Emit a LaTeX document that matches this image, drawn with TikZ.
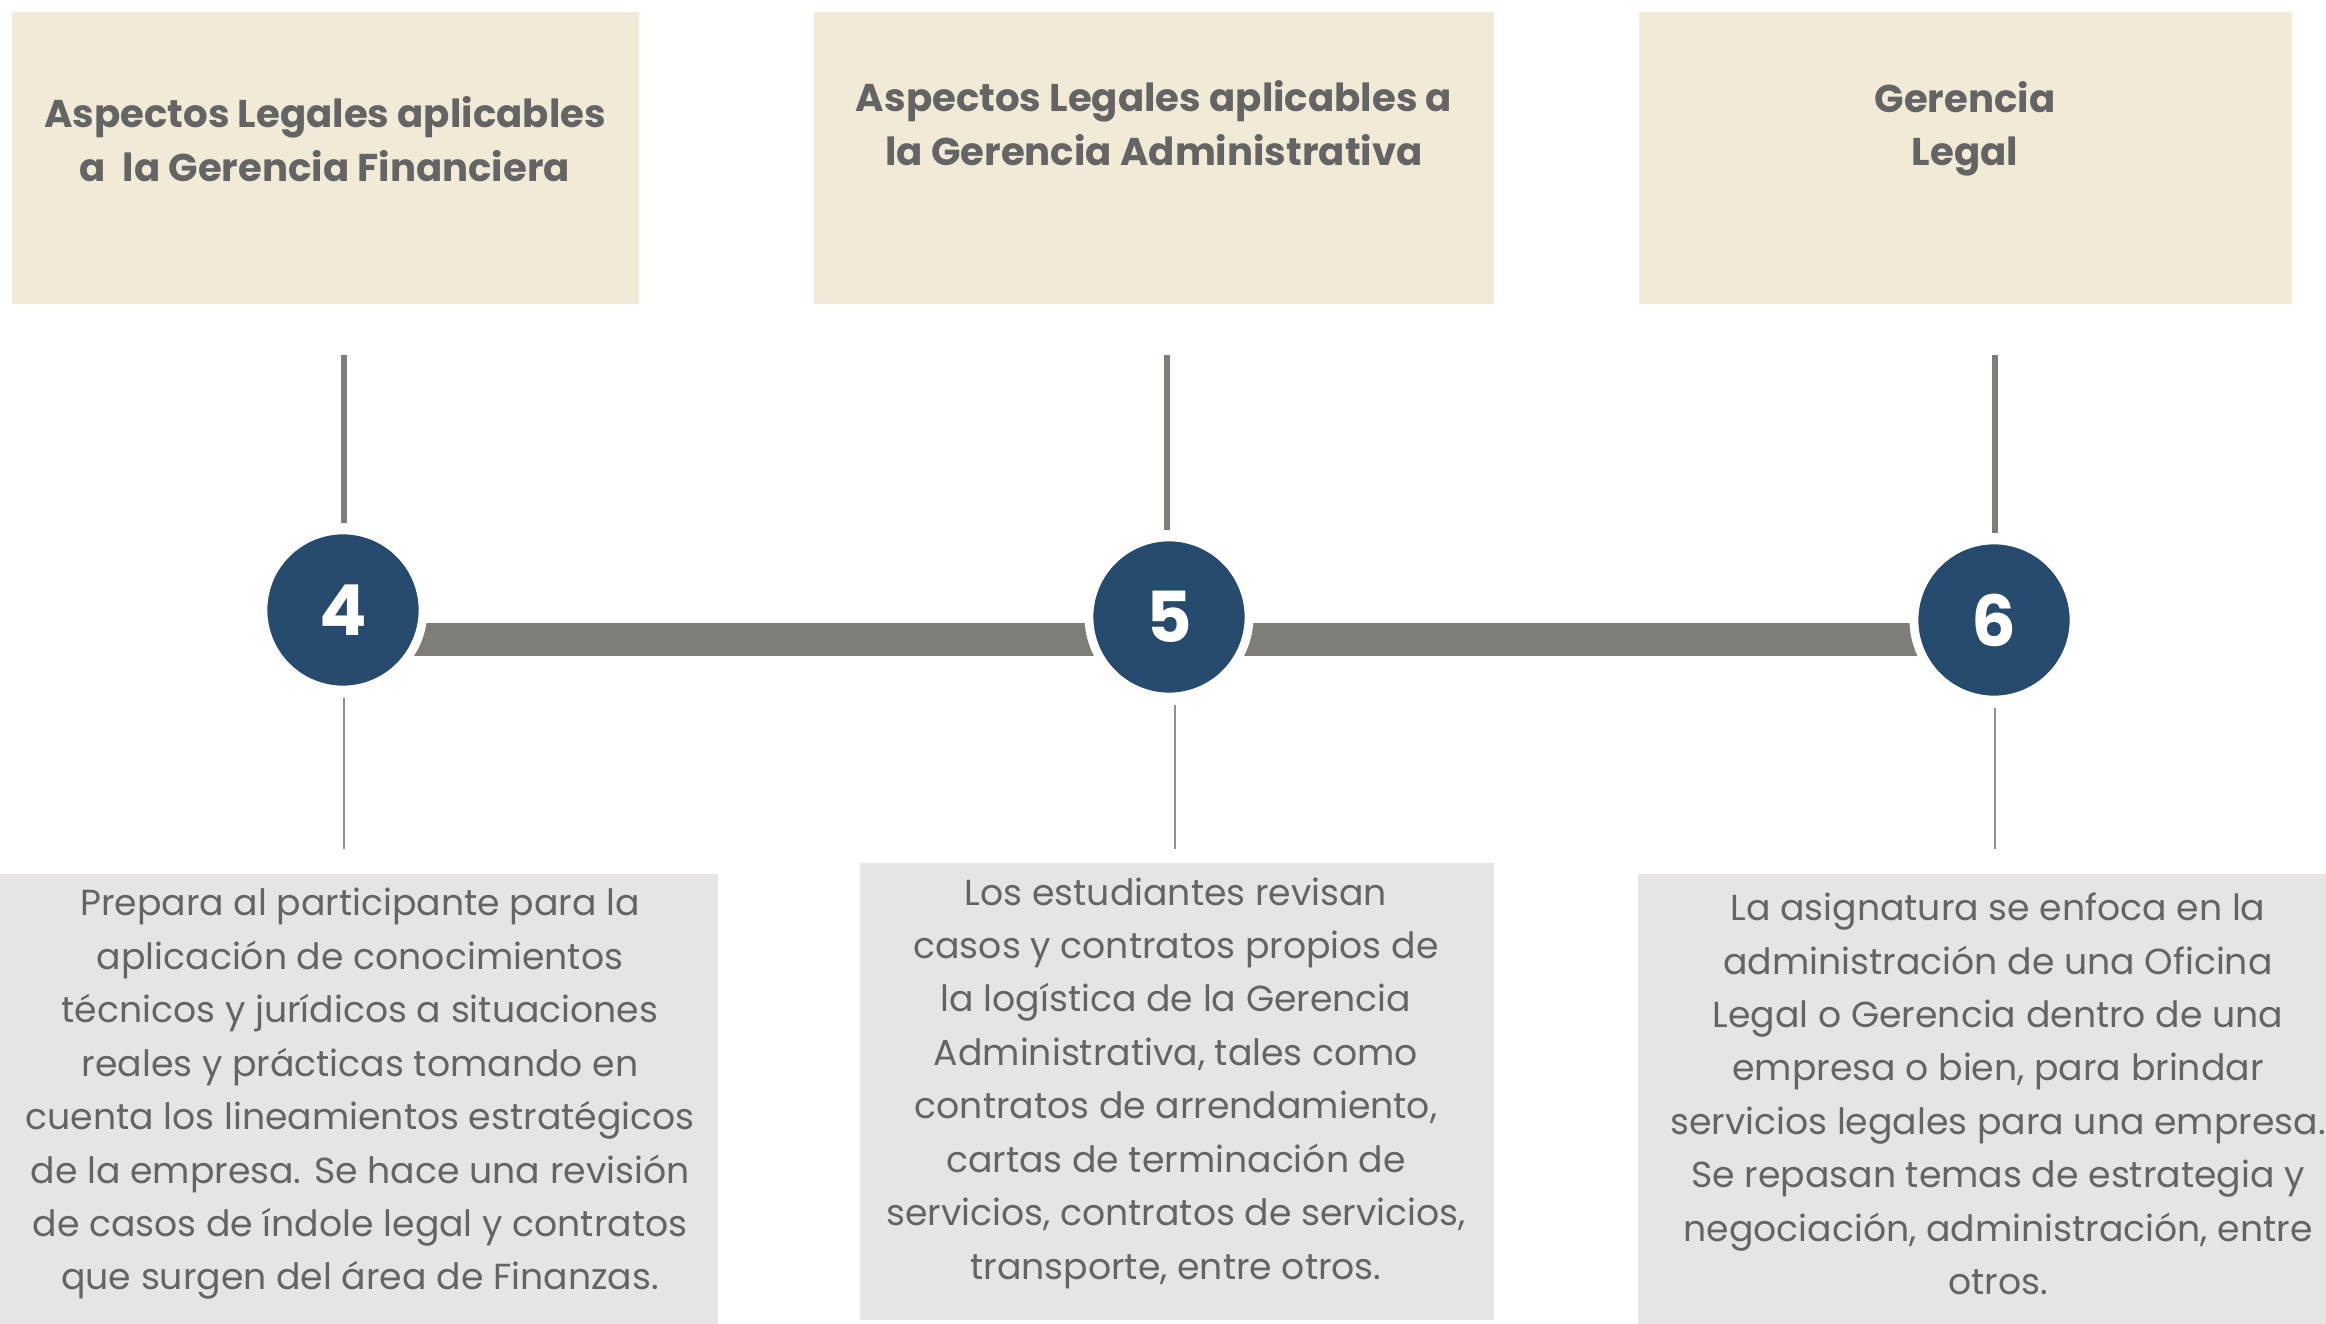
\documentclass[tikz,border=0pt]{standalone}
\usepackage{fontspec}
\setmainfont{Poppins}
\usepackage{tikz}
\definecolor{beige}{HTML}{F1EAD7}
\definecolor{boxgray}{HTML}{E6E5E3}
\definecolor{bargray}{HTML}{807C78}
\definecolor{navy}{HTML}{274A6F}
\definecolor{textgray}{HTML}{646464}
\tikzstyle{title} = [text=textgray, font=\bfseries\fontsize{11}{15.2}\selectfont, align=center]
\tikzstyle{body}  = [text=textgray, font=\fontsize{10.3}{15.2}\selectfont, align=center]
\tikzstyle{num}   = [circle, fill=navy, draw=white, line width=2.5pt, minimum size=1.6cm, inner sep=0pt, text=white, font=\bfseries\fontsize{20}{20}\selectfont]
\tikzstyle{stem}  = [draw=bargray, line width=1.7pt, shorten >=0.03cm]
\tikzstyle{thin}  = [draw=bargray!85, line width=0.45pt, shorten <=0.04cm]

\begin{document}
\begin{tikzpicture}[x=0.01cm, y=-0.01cm]
	\useasboundingbox (0,0) rectangle (2326,1324);
	% -------------- Title boxes --------------
	\fill[beige] (12,12)   rectangle (639,304);
	\fill[beige] (814,12)  rectangle (1494,304);
	\fill[beige] (1639,12) rectangle (2292,304);
	\node[title] (h4) at (325,139)  {Aspectos Legales aplicables\\a\ \ la Gerencia Financiera};
	\node[title] (h5) at (1154,123) {Aspectos Legales aplicables a\\la Gerencia Administrativa};
	\node[title] (h6) at (1965,129) {Gerencia\\Legal};
	% -------------- Timeline --------------
	\fill[bargray] (343,623) rectangle (1994,656);
	\node[num] (c4) at (343,610)  {4};
	\node[num] (c5) at (1169,617) {5};
	\node[num] (c6) at (1994,620) {6};
	\coordinate (t4) at (344,355);
	\coordinate (t5) at (1167,355);
	\coordinate (t6) at (1995,355);
	\draw[stem] (t4) -- (t4 |- c4.north);
	\draw[stem] (t5) -- (t5 |- c5.north);
	\draw[stem] (t6) -- (t6 |- c6.north);
	\coordinate (b4) at (344,849);
	\coordinate (b5) at (1175,849);
	\coordinate (b6) at (1995,849);
	\draw[thin] (b4 |- c4.south) -- (b4);
	\draw[thin] (b5 |- c5.south) -- (b5);
	\draw[thin] (b6 |- c6.south) -- (b6);
	% -------------- Text boxes --------------
	\fill[boxgray] (0,874)    rectangle (718,1324);
	\fill[boxgray] (860,863)  rectangle (1494,1320);
	\fill[boxgray] (1638,874) rectangle (2326,1324);
	\node[body] (d4) at (360,1094) {Prepara al participante para la\\aplicación de conocimientos\\técnicos y jurídicos a situaciones\\reales y prácticas tomando en\\cuenta los lineamientos estratégicos\\de la empresa. Se hace una revisión\\de casos de índole legal y contratos\\que surgen del área de Finanzas.};
	\node[body] (d5) at (1176,1083) {Los estudiantes revisan\\casos y contratos propios de\\la logística de la Gerencia\\Administrativa, tales como\\contratos de arrendamiento,\\cartas de terminación de\\servicios, contratos de servicios,\\transporte, entre otros.};
	\node[body] (d6) at (1998,1094) {La asignatura se enfoca en la\\administración de una Oficina\\Legal o Gerencia dentro de una\\empresa o bien, para brindar\\servicios legales para una empresa.\\Se repasan temas de estrategia y\\negociación, administración, entre\\otros.};
\end{tikzpicture}
\end{document}
